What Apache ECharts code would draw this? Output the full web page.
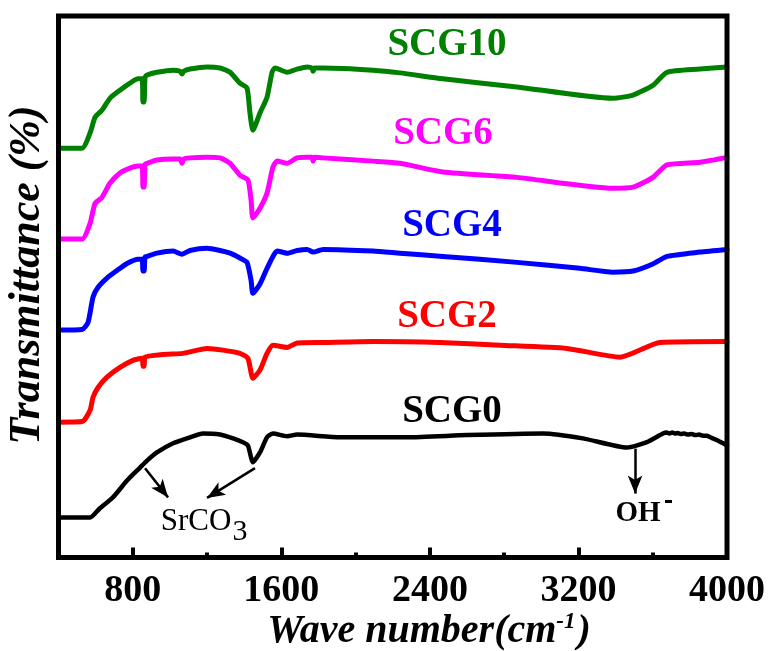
<!DOCTYPE html>
<html>
<head>
<meta charset="utf-8">
<script src="https://cdn.jsdelivr.net/npm/echarts@6/dist/echarts.min.js"></script>
<style>
  html, body { margin: 0; padding: 0; background: #fff; }
  #chart { width: 769px; height: 651px; }
</style>
</head>
<body>
<div id="chart"></div>
<script>
// FTIR spectra, stacked with vertical offsets (arbitrary transmittance units)
// Each entry: [wave number (cm^-1), transmittance]
const scg10 = [
  [400,75.6],[527,75.6],[570,78.4],[597,81.3],[634,82.6],[677,84.8],[731,86.3],[785,87.6],
  [828,88.4],[850,88.4],[855,84.1],[861,84.1],[866,88.7],[877,89.1],[930,89.6],[1017,90.0],
  [1055,89.8],[1065,89.3],[1075,89.8],[1108,90.2],[1200,90.6],[1270,90.4],[1324,89.6],
  [1377,87.6],[1415,86.7],[1431,82.1],[1447,78.9],[1485,82.1],[1523,85.0],[1550,89.6],
  [1566,90.4],[1631,89.6],[1685,90.2],[1739,90.6],[1765,90.4],[1771,89.8],[1780,90.4],
  [1825,90.4],[2094,90.0],[2239,89.5],[2470,88.4],[2869,86.9],[3385,84.8],[3494,85.4],
  [3601,87.2],[3677,89.6],[3854,90.2],[4000,90.6]
];
const scg6 = [
  [400,58.8],[527,58.8],[570,61.7],[597,65.4],[634,66.5],[677,69.1],[731,71.0],[785,71.9],
  [828,72.3],[850,72.3],[855,68.4],[861,68.4],[866,72.6],[877,72.8],[930,73.4],[1017,73.6],
  [1055,73.6],[1065,72.8],[1075,73.6],[1108,73.8],[1200,73.9],[1270,73.8],[1324,72.8],
  [1377,70.6],[1420,69.7],[1437,66.0],[1447,62.7],[1485,64.5],[1523,67.3],[1555,72.1],
  [1577,73.2],[1631,72.8],[1685,73.8],[1739,73.9],[1765,73.9],[1771,73.2],[1780,73.9],
  [1825,73.8],[2094,73.2],[2239,72.8],[2470,71.2],[2869,70.2],[3385,68.2],[3494,68.4],
  [3601,70.2],[3677,72.5],[3854,73.0],[4000,73.9]
];
const scg4 = [
  [400,42.0],[527,42.1],[559,43.4],[586,48.1],[613,49.9],[661,51.6],[715,53.0],[769,54.3],
  [828,55.1],[850,55.1],[855,52.9],[861,52.9],[866,55.5],[877,55.6],[930,56.2],[1017,56.6],
  [1065,56.0],[1108,56.7],[1200,57.1],[1270,56.7],[1324,56.2],[1377,55.3],[1415,54.5],
  [1437,51.2],[1447,48.8],[1485,50.5],[1523,53.4],[1555,55.6],[1577,56.6],[1631,56.2],
  [1685,56.7],[1739,56.9],[1771,56.4],[1825,56.9],[2094,56.6],[2239,56.2],[2470,55.6],
  [2869,54.5],[3208,53.4],[3385,52.7],[3494,52.9],[3601,54.2],[3677,55.6],[3854,56.4],
  [4000,56.9]
];
const scg2 = [
  [400,25.0],[527,25.1],[570,27.2],[586,29.6],[613,31.4],[661,33.3],[731,35.1],[801,36.4],
  [850,36.8],[855,35.3],[861,35.3],[866,37.0],[963,37.5],[1070,37.7],[1200,38.6],[1286,38.3],
  [1377,37.7],[1420,36.8],[1447,33.1],[1485,34.6],[1523,37.7],[1555,39.2],[1631,38.8],
  [1685,39.6],[1825,39.7],[2094,39.9],[2454,39.7],[2777,39.2],[3138,38.6],[3424,37.0],
  [3639,39.7],[4000,39.9]
];
const scg0 = [
  [400,7.4],[570,7.4],[623,9.1],[693,11.1],[769,14.2],[839,16.6],[877,17.9],[930,19.4],
  [1017,21.1],[1108,22.2],[1178,22.9],[1270,22.7],[1340,22.0],[1393,21.3],[1420,20.7],
  [1447,17.6],[1485,19.4],[1523,22.2],[1555,22.9],[1631,22.4],[1685,22.7],[1916,22.2],
  [2277,22.2],[2600,22.6],[3009,22.9],[3224,22.0],[3462,20.3],[3569,21.3],[3655,22.9],
  [3675,23.1],[3690,22.9],[3705,23.1],[3720,22.9],[3735,23.0],[3750,22.8],[3770,22.9],
  [3790,22.7],[3810,22.8],[3830,22.6],[3850,22.7],[3870,22.5],[3890,22.5],[3910,22.2],
  [3950,21.6],[4000,20.7]
];

const seriesNames = ['SCG10', 'SCG6', 'SCG4', 'SCG2', 'SCG0'];
const seriesData = [scg10, scg6, scg4, scg2, scg0];
const seriesColors = ['#008000', '#ff00ff', '#0000ff', '#ff0000', '#000000'];

// Tick marks on the wave-number axis
const majorTicks = [800, 1600, 2400, 3200, 4000];
const minorTicks = [1200, 2000, 2800, 3600];

// Band assignment arrows: [from, to] in [wave number, transmittance]
const srco3Arrows = [
  [[866, 16.5], [990, 11.1]],
  [[1458, 16.5], [1200, 11.0]]
];
const ohArrow = [[3505, 20.1], [3505, 11.8]];

const SERIF = '"Liberation Serif", "Times New Roman", serif';

const chart = echarts.init(document.getElementById('chart'), null, { renderer: 'canvas' });

const series = seriesNames.map((name, i) => ({
  name: name,
  type: 'line',
  data: seriesData[i],
  showSymbol: false,
  symbol: 'none',
  smooth: 0.2,
  lineStyle: { color: seriesColors[i], width: i === 4 ? 4.5 : 5, join: 'round', cap: 'round' },
  z: 3
}));

const arrowLines = srco3Arrows.concat([ohArrow]).map(a => [
  { coord: a[0] }, { coord: a[1] }
]);
series[4].markLine = {
  silent: true,
  symbol: ['none', 'arrow'],
  symbolSize: [11, 18],
  label: { show: false },
  lineStyle: { color: '#000', width: 2.5, type: 'solid' },
  emphasis: { disabled: true },
  data: arrowLines
};

const labelPos = [[447, 45], [443, 134], [452, 226], [447, 317], [452, 412]];

function centered(extra) {
  return Object.assign({
    align: 'center', verticalAlign: 'middle',
    textAlign: 'center', textVerticalAlign: 'middle', fill: '#000'
  }, extra);
}

const graphics = seriesNames.map((name, i) => ({
  type: 'text',
  x: labelPos[i][0],
  y: labelPos[i][1],
  style: centered({ text: name, font: 'bold 39px ' + SERIF, fill: seriesColors[i] })
}));

graphics.push(
  { type: 'text', x: 196, y: 522, style: centered({ text: 'SrCO', font: '31px ' + SERIF }) },
  { type: 'text', x: 240, y: 532, style: centered({ text: '3', font: '30px ' + SERIF }) },
  { type: 'text', x: 638, y: 514, style: centered({ text: 'OH', font: 'bold 29px ' + SERIF }) },
  { type: 'rect', shape: { x: 665, y: 500, width: 7, height: 3 }, style: { fill: '#000' } },
  {
    type: 'text', x: 28, y: 275, rotation: Math.PI / 2,
    style: centered({ text: 'Transmittance (%)', font: 'bold italic 44px ' + SERIF })
  },
  {
    type: 'text', x: 429, y: 632,
    style: centered({
      text: '{t|Wave number(cm}{s|-1}{t|)}',
      rich: {
        t: { font: 'bold italic 40px ' + SERIF, fill: '#000' },
        s: { font: 'bold italic 23px ' + SERIF, fill: '#000', padding: [0, 2, 19, 0] }
      }
    })
  }
);

chart.setOption({
  animation: false,
  backgroundColor: '#fff',
  grid: {
    left: 58.5, right: 42, top: 16, bottom: 93.5,
    show: true, borderColor: '#000', borderWidth: 5, backgroundColor: 'transparent', z: 5
  },
  xAxis: [
    {
      type: 'value', min: 400, max: 4000,
      axisLine: { show: false },
      splitLine: { show: false },
      axisTick: { show: true, inside: true, length: 10, customValues: majorTicks,
        lineStyle: { color: '#000', width: 4 } },
      axisLabel: { show: true, customValues: majorTicks, margin: 15,
        formatter: v => String(v),
        color: '#000', fontFamily: SERIF, fontWeight: 'bold', fontSize: 38 }
    },
    {
      type: 'value', min: 400, max: 4000, position: 'bottom',
      axisLine: { show: false },
      splitLine: { show: false },
      axisTick: { show: true, inside: true, length: 5, customValues: minorTicks,
        lineStyle: { color: '#000', width: 4 } },
      axisLabel: { show: false }
    }
  ],
  yAxis: {
    type: 'value', min: 0, max: 100,
    axisLine: { show: false }, axisTick: { show: false },
    axisLabel: { show: false }, splitLine: { show: false }
  },
  series: series,
  graphic: graphics
});
</script>
</body>
</html>
